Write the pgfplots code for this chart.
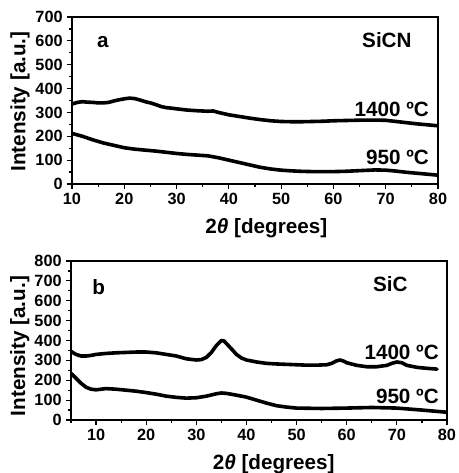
\documentclass[border=0pt]{standalone}
\usepackage{pgfplots}
\pgfplotsset{compat=1.18}
\usepackage{fontspec}
\setmainfont{Liberation Sans}
\tikzset{lbl/.style={font=\fontsize{15.5}{17}\selectfont\bfseries, inner sep=0pt},
  curve/.style={black, no markers, line width=2.7pt, line join=round, line cap=round}}
\begin{document}
\begin{tikzpicture}[x=0.75pt,y=0.75pt]
\pgfplotsset{
  common/.style={
    scale only axis,
    axis line style={line width=1.2pt},
    tick align=outside,
    xtick pos=bottom, ytick pos=left,
    major tick length=3.5pt, minor tick length=2pt,
    tick style={line width=0.9pt,black},
    minor x tick num=1, minor y tick num=1,
    /pgf/number format/assume math mode=true,
    tick label style={font=\fontsize{12.2}{14}\selectfont\bfseries},
    label style={font=\fontsize{15.5}{17}\selectfont\bfseries, inner sep=0pt},
    xlabel={2\textit{θ} [degrees]},
    ylabel={Intensity [a.u.]},
  }
}
\begin{axis}[common, at={(72pt*0.75,-184pt*0.75)}, anchor=south west,
  width=274.5pt, height=125.25pt,
  xmin=10, xmax=80, ymin=0, ymax=700,
  xtick={10,20,...,80}, ytick={0,100,...,700},
  xlabel style={at={(axis description cs:0.531,-0.263)}, anchor=center},
  ylabel style={at={(axis description cs:-0.142,0.494)}, anchor=center}]
\addplot[curve] coordinates {(10,335)(11,342)(12,345)(13,343)(14,342)(15,340)(16,340)(17,342)(18,348)(19,353)(20,357)(21,360)(22,358)(23,352)(24,345)(25,340)(26,333)(27,325)(28,320)(29,318)(30,315)(32,310)(34,307)(36,305)(37,306)(38,300)(40,290)(42,283)(44,276)(46,270)(48,265)(50,262)(52,261)(54,261)(56,262)(58,263)(60,265)(62,266)(64,267)(66,268)(68,268)(70,267)(72,262)(74,257)(76,252)(78,248)(80,244)};
\addplot[curve] coordinates {(10,212)(12,200)(14,185)(16,172)(18,162)(20,152)(22,146)(24,142)(26,138)(28,133)(30,128)(32,124)(34,121)(36,118)(38,110)(40,100)(42,90)(44,80)(46,70)(48,63)(50,58)(52,55)(54,53)(56,52)(58,52)(60,52)(62,53)(64,55)(66,57)(68,59)(70,58)(72,54)(74,49)(76,45)(78,41)(80,37)};
\node[lbl,anchor=base] at (axis cs:15.9,574) {a};
\node[lbl,anchor=base east] at (axis cs:75.0,574) {SiCN};
\node[lbl,anchor=base east] at (axis cs:78.3,281) {1400 ºC};
\node[lbl,anchor=base east] at (axis cs:78.3,80) {950 ºC};
\end{axis}
\begin{axis}[common, at={(71pt*0.75,-420pt*0.75)}, anchor=south west,
  width=282pt, height=119.25pt,
  xmin=5, xmax=80, ymin=0, ymax=800,
  xtick={10,20,...,80}, ytick={0,100,...,800},
  minor xtick={5,15,...,75},
  xlabel style={at={(axis description cs:0.539,-0.277)}, anchor=center},
  ylabel style={at={(axis description cs:-0.136,0.465)}, anchor=center}]
\addplot[curve] coordinates {(5,345)(6,330)(7,322)(8,322)(9,325)(10,330)(12,335)(14,338)(16,340)(18,342)(20,342)(22,338)(24,330)(26,322)(28,308)(30,302)(31,304)(32,315)(33,340)(34,375)(35,400)(35.5,398)(36,385)(37,358)(38,330)(39,312)(40,302)(42,292)(44,285)(46,282)(48,280)(50,278)(52,276)(54,276)(56,278)(57,285)(58,298)(58.7,302)(59.5,295)(60,288)(62,275)(64,268)(66,268)(68,275)(69,285)(70,292)(71,288)(72,275)(74,265)(76,260)(78,256)};
\addplot[curve] coordinates {(5,235)(6,210)(7,185)(8,165)(9,155)(10,152)(12,158)(14,155)(16,150)(18,145)(20,138)(22,130)(24,120)(26,114)(28,110)(30,112)(32,120)(34,132)(35,136)(36,134)(38,125)(40,115)(42,100)(44,85)(46,72)(48,65)(50,60)(55,58)(60,60)(65,63)(70,60)(75,50)(80,39)};
\node[lbl,anchor=base] at (axis cs:10.5,630) {b};
\node[lbl,anchor=base east] at (axis cs:72.2,648) {SiC};
\node[lbl,anchor=base east] at (axis cs:78.4,303) {1400 ºC};
\node[lbl,anchor=base east] at (axis cs:78.4,82) {950 ºC};
\end{axis}
\pgfresetboundingbox
\path (0,0) rectangle (458,-473);
\end{tikzpicture}
\end{document}
